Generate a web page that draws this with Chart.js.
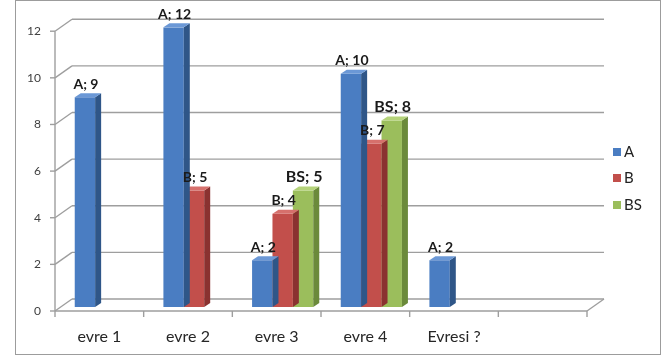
<!DOCTYPE html>
<html>
<head>
<meta charset="utf-8">
<script src="https://cdn.jsdelivr.net/npm/chart.js@4/dist/chart.umd.min.js"></script>
<style>
  html, body { margin: 0; padding: 0; background: #ffffff; }
  #wrap { width: 671px; height: 356px; position: relative; }
</style>
</head>
<body>
<div id="wrap"><canvas id="c" width="671" height="356"></canvas></div>
<script>
// Stage labels and the three series
const categories = ['evre 1', 'evre 2', 'evre 3', 'evre 4', 'Evresi ?', ''];
const seriesA  = [9, 12, 2, 10, 2, null];
const seriesB  = [null, 5, 4, 7, null, null];
const seriesBS = [null, null, 5, 8, null, null];
const seriesNames = ['A', 'B', 'BS'];
const yTicks = [0, 2, 4, 6, 8, 10, 12];

// Face colours for the extruded bars: front, side, top
const faces = [
  { front: '#4a7dc2', side: '#2f5688', top: '#6b98d6' },
  { front: '#c24f4b', side: '#8a3230', top: '#d6706c' },
  { front: '#9bbe5c', side: '#6b8a3b', top: '#b5d37a' }
];

// Projection offsets (pixels) relative to the plane the bars stand on
const FRONT = { dx: -6, dy: 4 };
const BACK  = { dx: 11, dy: -8 };
const DEPTH = { dx: 6, dy: -4 };
const GRID = '#9e9e9e';

function line(ctx, x1, y1, x2, y2) {
  ctx.beginPath();
  ctx.moveTo(x1, y1);
  ctx.lineTo(x2, y2);
  ctx.stroke();
}

const box3d = {
  id: 'box3d',
  beforeDraw(chart) {
    const ctx = chart.ctx;
    ctx.save();
    ctx.fillStyle = '#ffffff';
    ctx.fillRect(0, 0, chart.width, chart.height);
    ctx.strokeStyle = '#9c9c9c';
    ctx.lineWidth = 1;
    ctx.strokeRect(15.5, 0.5, 645, 354);
    ctx.restore();
  },
  beforeDatasetsDraw(chart) {
    const ctx = chart.ctx;
    const ys = chart.scales.y;
    const a = chart.chartArea;
    ctx.save();
    ctx.strokeStyle = GRID;
    ctx.lineWidth = 1.4;
    const fx = a.left + FRONT.dx;
    yTicks.forEach(v => {
      const p = ys.getPixelForValue(v);
      // back wall line
      line(ctx, a.left + BACK.dx, p + BACK.dy, a.right + BACK.dx, p + BACK.dy);
      // side wall diagonal
      line(ctx, fx, p + FRONT.dy, a.left + BACK.dx, p + BACK.dy);
      // tick mark
      line(ctx, fx - 5, p + FRONT.dy, fx, p + FRONT.dy);
    });
    const p0 = ys.getPixelForValue(0);
    const pTop = ys.getPixelForValue(12);
    // front vertical axis
    line(ctx, fx, pTop + FRONT.dy, fx, p0 + FRONT.dy);
    // floor front edge and right edge
    line(ctx, fx, p0 + FRONT.dy, a.right + FRONT.dx, p0 + FRONT.dy);
    line(ctx, a.right + FRONT.dx, p0 + FRONT.dy, a.right + BACK.dx, p0 + BACK.dy);
    // category tick marks
    const n = categories.length;
    const w = (a.right - a.left) / n;
    for (let i = 0; i <= n; i++) {
      const x = a.left + i * w + FRONT.dx;
      line(ctx, x, p0 + FRONT.dy, x, p0 + FRONT.dy + 6);
    }
    ctx.restore();
  },
  afterDatasetDraw(chart, args) {
    const ctx = chart.ctx;
    const f = faces[args.index];
    const meta = args.meta;
    ctx.save();
    meta.data.forEach((bar, i) => {
      const v = chart.data.datasets[args.index].data[i];
      if (v === null || v === undefined) return;
      const props = bar.getProps(['x', 'y', 'base', 'width'], true);
      const l = props.x - props.width / 2, r = props.x + props.width / 2;
      const t = props.y, b = props.base;
      // side face
      ctx.fillStyle = f.side;
      ctx.beginPath();
      ctx.moveTo(r, b);
      ctx.lineTo(r + DEPTH.dx, b + DEPTH.dy);
      ctx.lineTo(r + DEPTH.dx, t + DEPTH.dy);
      ctx.lineTo(r, t);
      ctx.closePath();
      ctx.fill();
      // top face
      ctx.fillStyle = f.top;
      ctx.beginPath();
      ctx.moveTo(l, t);
      ctx.lineTo(l + DEPTH.dx, t + DEPTH.dy);
      ctx.lineTo(r + DEPTH.dx, t + DEPTH.dy);
      ctx.lineTo(r, t);
      ctx.closePath();
      ctx.fill();
    });
    ctx.restore();
  },
  afterDatasetsDraw(chart) {
    const ctx = chart.ctx;
    ctx.save();
    ctx.fillStyle = '#1a1a1a';
    ctx.textAlign = 'center';
    ctx.textBaseline = 'middle';
    chart.data.datasets.forEach((ds, di) => {
      const meta = chart.getDatasetMeta(di);
      ds.data.forEach((v, i) => {
        if (v === null || v === undefined) return;
        const bar = meta.data[i];
        const isBS = ds.label === 'BS';
        ctx.font = 'bold ' + (isBS ? 16 : 14) + 'px Lato, "Open Sans", sans-serif';
        ctx.fillText(ds.label + '; ' + v, bar.x + 1, bar.y - (isBS ? 14 : 13));
      });
    });
    ctx.restore();
  },
  afterDraw(chart) {
    // legend on the right
    const ctx = chart.ctx;
    ctx.save();
    ctx.font = '15px Lato, "Open Sans", sans-serif';
    ctx.textBaseline = 'middle';
    ctx.textAlign = 'left';
    const rows = [152, 178, 205];
    seriesNames.forEach((name, i) => {
      ctx.fillStyle = faces[i].front;
      ctx.fillRect(613, rows[i] - 4, 8, 8);
      ctx.fillStyle = '#222222';
      ctx.fillText(name, 624, rows[i]);
    });
    ctx.restore();
  }
};

new Chart(document.getElementById('c'), {
  type: 'bar',
  data: {
    labels: categories,
    datasets: [
      { label: seriesNames[0], data: seriesA,  backgroundColor: faces[0].front },
      { label: seriesNames[1], data: seriesB,  backgroundColor: faces[1].front },
      { label: seriesNames[2], data: seriesBS, backgroundColor: faces[2].front }
    ]
  },
  plugins: [box3d],
  options: {
    responsive: false,
    animation: false,
    devicePixelRatio: 1,
    layout: { padding: { left: 0, top: 24, right: 78, bottom: 0 } },
    categoryPercentage: 0.69,
    barPercentage: 1,
    plugins: {
      legend: { display: false },
      tooltip: { enabled: false }
    },
    scales: {
      x: {
        grid: { display: false, drawTicks: false },
        border: { display: false },
        afterFit(s) { s.height = 49; },
        ticks: {
          labelOffset: -6,
          padding: 20,
          color: '#262626',
          font: { family: 'Lato, "Open Sans", sans-serif', size: 16 }
        }
      },
      y: {
        min: 0,
        max: 12,
        afterFit(s) { s.width = 61; },
        afterBuildTicks(s) { s.ticks = yTicks.map(v => ({ value: v })); },
        grid: { display: false, drawTicks: false },
        border: { display: false },
        ticks: {
          labelOffset: 4,
          padding: 20,
          color: '#404040',
          font: { family: 'Lato, "Open Sans", sans-serif', size: 12 }
        }
      }
    }
  }
});
</script>
</body>
</html>
